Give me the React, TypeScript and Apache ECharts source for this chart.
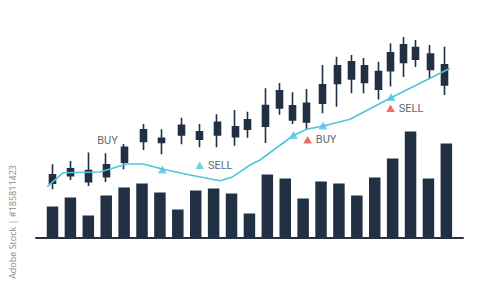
import React, { useEffect, useRef } from "react";
import * as echarts from "echarts";

// Session positions (x) of each candle, in bar-slot units
const candleTimes = [0, 1, 2, 3, 4, 5.1, 6.1, 7.2, 8.2, 9.2, 10.2, 10.9, 11.9, 12.7, 13.4, 14.2, 15.1, 15.9, 16.7, 17.4, 18.2, 18.9, 19.6, 20.3, 21.1, 21.9];
const candleOpen = [27.1, 30.9, 33.5, 30.4, 37.6, 48.0, 49.6, 51.3, 52.8, 51.3, 55.4, 54.1, 55.6, 64.8, 65.9, 57.8, 67.1, 77.0, 79.3, 85.8, 83.0, 83.4, 87.5, 95.0, 91.7, 86.3];
const candleClose = [31.3, 34.3, 27.9, 36.3, 45.1, 53.8, 47.5, 56.1, 49.1, 57.6, 50.4, 58.8, 66.0, 73.4, 58.8, 67.1, 76.3, 85.8, 87.9, 77.5, 74.1, 92.4, 96.3, 89.1, 84.0, 76.3];
const candleLow = [24.1, 28.8, 25.8, 27.8, 34.1, 43.8, 41.6, 46.6, 45.1, 45.1, 45.9, 49.9, 47.3, 61.4, 56.8, 53.8, 62.1, 65.4, 72.1, 72.1, 69.0, 75.5, 80.2, 85.3, 79.4, 71.3];
const candleHigh = [36.6, 38.3, 42.5, 42.1, 46.8, 56.8, 54.1, 59.9, 56.8, 61.6, 63.8, 62.9, 74.6, 77.3, 72.6, 74.2, 86.3, 90.4, 91.3, 89.8, 87.9, 97.1, 100.2, 98.8, 96.3, 95.4];

// Volume bars, one per slot
const volumeTimes = [0, 1, 2, 3, 4, 5, 6, 7, 8, 9, 10, 11, 12, 13, 14, 15, 16, 17, 18, 19, 20, 21, 22];
const volumeValues = [31, 40, 22, 42, 50, 54, 45, 28, 47, 49, 44, 24, 63, 59, 39, 56, 54, 42, 60, 79, 106, 59, 94];

// Moving average trend line
const maTimes = [-0.29, 0.6, 2.65, 4.15, 5.07, 6.13, 7.68, 9.36, 10.01, 10.49, 11.03, 11.59, 13.45, 14.2, 15.11, 16.62, 18.85, 22.21];
const maValues = [25.4, 32.4, 32.75, 36.75, 36.75, 34.25, 31.25, 28.4, 30.1, 32.9, 36.25, 38.75, 51, 54.1, 55.75, 59.1, 69.6, 84.6];

// Crossing points on the moving average
const crossTimes = [6.14, 13.46, 15.11, 18.91];
const crossValues = [34, 51.25, 56, 70.25];

// Labelled trade signals
const signalTimes = [8.22, 14.25, 18.88];
const signalValues = [36.1, 48.9, 64.6];
const signalLabels = ["SELL", "BUY", "SELL"];
const signalKinds = ["cross", "entry", "entry"];

// Text-only signal
const noteTimes = [3.07];
const noteValues = [48.5];
const noteLabels = ["BUY"];

const NAVY = "#223044";
const CYAN = "#4fc4dd";
const RED = "#e84a30";
const TEXT = "#333a44";
const FONT = "Roboto, 'Noto Sans', sans-serif";

export default function App() {
  const ref = useRef<HTMLDivElement>(null);

  useEffect(() => {
    if (!ref.current) return;
    const chart = echarts.init(ref.current, undefined, { renderer: "svg" });

    const candles = candleTimes.map((t, i) => [t, candleOpen[i], candleClose[i], candleLow[i], candleHigh[i]]);
    const volumes = volumeTimes.map((t, i) => [t, volumeValues[i]]);
    const ma = maTimes.map((t, i) => [t, maValues[i]]);
    const crosses = crossTimes.map((t, i) => [t, crossValues[i]]);
    const signals = signalTimes.map((t, i) => ({
      value: [t, signalValues[i]],
      itemStyle: { color: signalKinds[i] === "cross" ? CYAN : RED },
      label: { formatter: signalLabels[i], color: TEXT },
    }));
    const notes = noteTimes.map((t, i) => ({
      value: [t, noteValues[i]],
      label: { formatter: noteLabels[i], color: TEXT },
    }));

    const labelStyle = {
      show: true,
      position: "right" as const,
      distance: 4,
      color: TEXT,
      fontSize: 11,
      fontFamily: FONT,
    };

    chart.setOption({
      animation: false,
      backgroundColor: "#ffffff",
      grid: { left: 36, right: 37, top: 17.5, bottom: 44.5 },
      xAxis: {
        type: "value",
        min: -0.922,
        max: 22.93,
        axisLine: { show: true, lineStyle: { color: "#263244", width: 2 } },
        axisTick: { show: false },
        axisLabel: { show: false },
        splitLine: { show: false },
      },
      yAxis: [
        { type: "value", min: 0, max: 220, show: false, splitLine: { show: false } },
        { type: "value", min: 0, max: 110, show: false, splitLine: { show: false } },
      ],
      series: [
        {
          type: "bar",
          yAxisIndex: 0,
          data: volumes,
          barWidth: 11.5,
          itemStyle: { color: NAVY },
          z: 1,
        },
        {
          type: "candlestick",
          yAxisIndex: 1,
          data: candles,
          encode: { x: 0, y: [1, 2, 3, 4] },
          barWidth: 6.5,
          clip: false,
          itemStyle: {
            color: NAVY,
            color0: NAVY,
            borderColor: NAVY,
            borderColor0: NAVY,
            borderWidth: 1.6,
          },
          z: 2,
        },
        {
          type: "line",
          yAxisIndex: 1,
          data: ma,
          symbol: "none",
          lineStyle: { color: CYAN, width: 1.6 },
          z: 3,
        },
        {
          type: "scatter",
          yAxisIndex: 1,
          data: crosses,
          symbol: "triangle",
          symbolSize: [9, 8],
          itemStyle: { color: CYAN },
          z: 4,
        },
        {
          type: "scatter",
          yAxisIndex: 1,
          data: signals,
          symbol: "triangle",
          symbolSize: [8.5, 7.5],
          label: labelStyle,
          z: 4,
        },
        {
          type: "scatter",
          yAxisIndex: 1,
          data: notes,
          symbol: "circle",
          symbolSize: 1,
          itemStyle: { color: "rgba(0,0,0,0)" },
          label: { ...labelStyle, position: "inside", distance: 0 },
          z: 4,
        },
      ],
      graphic: [
        {
          type: "text",
          x: 12,
          y: 165,
          rotation: Math.PI / 2,
          style: {
            text: "Adobe Stock | #185811423",
            fill: "#8a8a8a",
            fontSize: 9,
            fontFamily: "'Open Sans', 'Noto Sans', sans-serif",
            align: "right",
            verticalAlign: "middle",
          },
        },
      ],
    });

    return () => chart.dispose();
  }, []);

  return <div ref={ref} style={{ position: "fixed", left: 0, top: 0, width: 500, height: 282 }} />;
}
